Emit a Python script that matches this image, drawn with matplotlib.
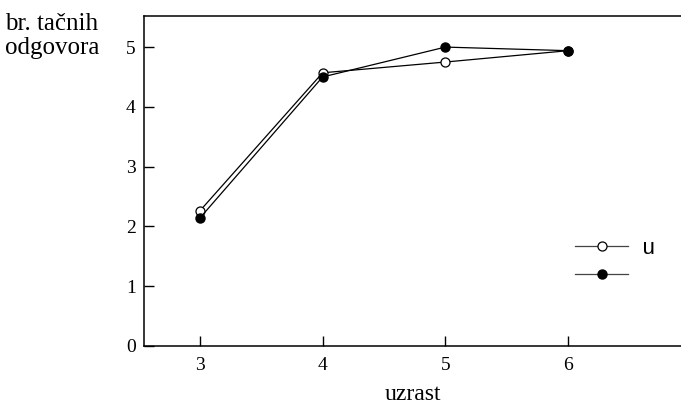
import matplotlib.pyplot as plt
from matplotlib.lines import Line2D

# ages and mean number of correct answers for the two groups
age = [3, 4, 5, 6]
group_u = [2.26, 4.57, 4.75, 4.94]
group_n = [2.14, 4.50, 5.00, 4.94]

plt.rcParams['font.family'] = ['Liberation Serif', 'DejaVu Serif']

fig = plt.figure(figsize=(6.81, 4.04), dpi=100)
ax = fig.add_axes([144 / 681, (404 - 346) / 404, 1 - 144 / 681, 330 / 404])

ax.plot(age, group_u, color='black', lw=0.9, marker='o', ms=6.5,
        mfc='white', mec='black', mew=0.9, zorder=3)
ax.plot(age, group_n, color='black', lw=0.9, marker='o', ms=6.5,
        mfc='black', mec='black', zorder=4)

ax.set_xlim(2.545, 6.92)
ax.set_ylim(0, 5.52)
ax.set_xticks(age)
ax.set_yticks(range(6))
ax.tick_params(direction='in', length=7, width=1, labelsize=14)
ax.tick_params(axis='x', pad=8)
ax.tick_params(axis='y', pad=6)
ax.spines['right'].set_visible(False)
for s in ['left', 'bottom', 'top']:
    ax.spines[s].set_linewidth(1.1)

ax.set_xlabel('uzrast', fontsize=17, labelpad=7)
fig.text(0.008, 0.967, 'br. tačnih\nodgovora', fontsize=18, va='top',
         ha='left', linespacing=1.1)

# hand-made legend in the lower right
leg_u = Line2D([0], [0], color='#444444', lw=0.9, marker='o', ms=6.5,
               mfc='white', mec='black', mew=0.9)
leg_n = Line2D([0], [0], color='#444444', lw=0.9, marker='o', ms=6.5,
               mfc='black', mec='black')
fig.legend([leg_u, leg_n], ['u', ' '], loc='upper left',
           bbox_to_anchor=(575 / 681, 1 - 238 / 404), frameon=False,
           borderpad=0, borderaxespad=0, handlelength=2.4,
           handletextpad=0.6, labelspacing=0.3,
           prop={'family': 'Liberation Mono', 'size': 16})

plt.savefig('out.png', dpi=100)
